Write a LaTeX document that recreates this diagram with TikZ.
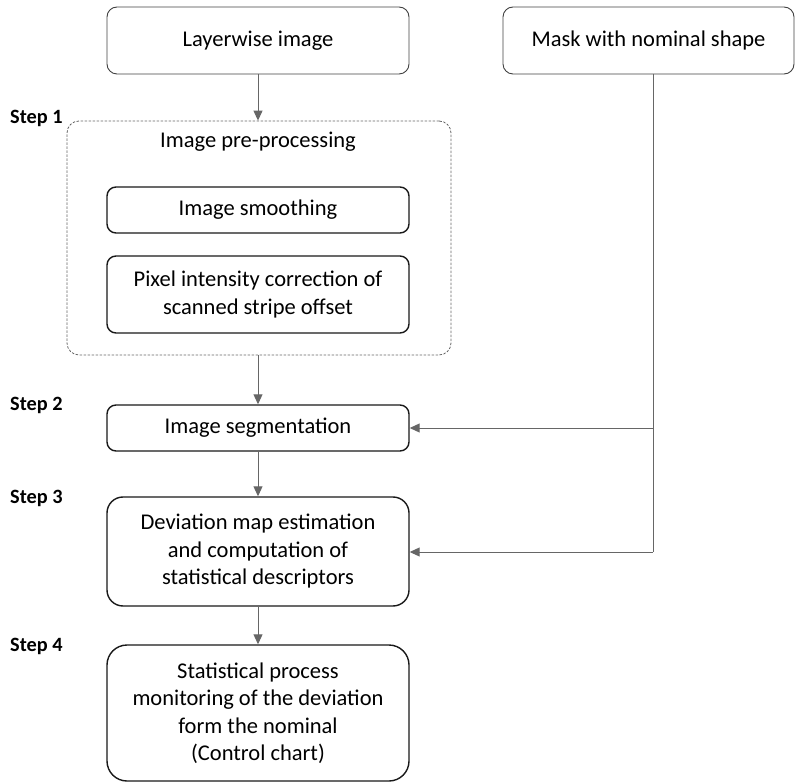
\documentclass[tikz,border=0pt]{standalone}
\usepackage{fontspec}
\setmainfont{Carlito}
\usetikzlibrary{arrows.meta}
\begin{document}
\begin{tikzpicture}[x=1pt,y=-1pt,
  txt/.style={font=\fontsize{22.5}{27.5}\selectfont, align=center, inner sep=0pt},
  topbox/.style={txt, draw=black!75, line width=0.9pt, rounded corners=10pt, minimum width=302pt, minimum height=67pt},
  inbox/.style={txt, draw=black!90, line width=1.4pt, rounded corners=9pt, minimum width=302pt},
  groupbox/.style={draw=black!60, dashed, dash pattern=on 2.5pt off 1.5pt, line width=0.8pt, rounded corners=12pt, minimum width=384pt, minimum height=234pt, inner sep=0pt},
  steplbl/.style={font=\fontsize{20.3}{22}\selectfont\bfseries, anchor=west, inner sep=0pt},
  conn/.style={draw=black!60, line width=1pt},
  arr/.style={conn, -{Triangle[length=10pt,width=9pt]}}]
\useasboundingbox (0,0) rectangle (795,783);
\node[topbox] (layer) at (258,40.5) {Layerwise image};
\node[topbox, minimum width=291pt] (mask) at (648.5,40.5) {Mask with nominal shape};
\node[groupbox] (pre) at (259,238) {};
\node[txt] (pretitle) at (258,142) {Image pre-processing};
\node[inbox, minimum height=46pt] (smooth) at (258,210) {Image smoothing};
\node[inbox, minimum height=77pt] (pixel) at (258,294.5) {Pixel intensity correction of\\scanned stripe offset};
\node[inbox, minimum height=46pt] (seg) at (258,428) {Image segmentation};
\node[inbox, minimum height=109pt, rounded corners=16pt] (dev) at (258,551.5) {Deviation map estimation\\and computation of\\statistical descriptors};
\node[inbox, minimum height=136pt, rounded corners=20pt] (spm) at (258,713) {Statistical process\\monitoring of the deviation\\form the nominal\\(Control chart)};
\node[steplbl] (s1) at (10,118) {Step 1};
\node[steplbl] (s2) at (10,405) {Step 2};
\node[steplbl] (s3) at (10,498) {Step 3};
\node[steplbl] (s4) at (10,646) {Step 4};
\coordinate (mtop) at (653,74);
\coordinate (m1) at (653,428);
\coordinate (m2) at (653,552);
\draw[arr] (layer.south) -- (pre.north -| layer.south);
\draw[arr] (pre.south -| layer.south) -- (seg.north);
\draw[arr] (seg.south) -- (dev.north);
\draw[arr] (dev.south) -- (spm.north);
\draw[conn] (mtop) -- (m2);
\draw[arr] (m1) -- (m1 -| seg.east);
\draw[arr] (m2) -- (m2 -| dev.east);
\end{tikzpicture}
\end{document}
